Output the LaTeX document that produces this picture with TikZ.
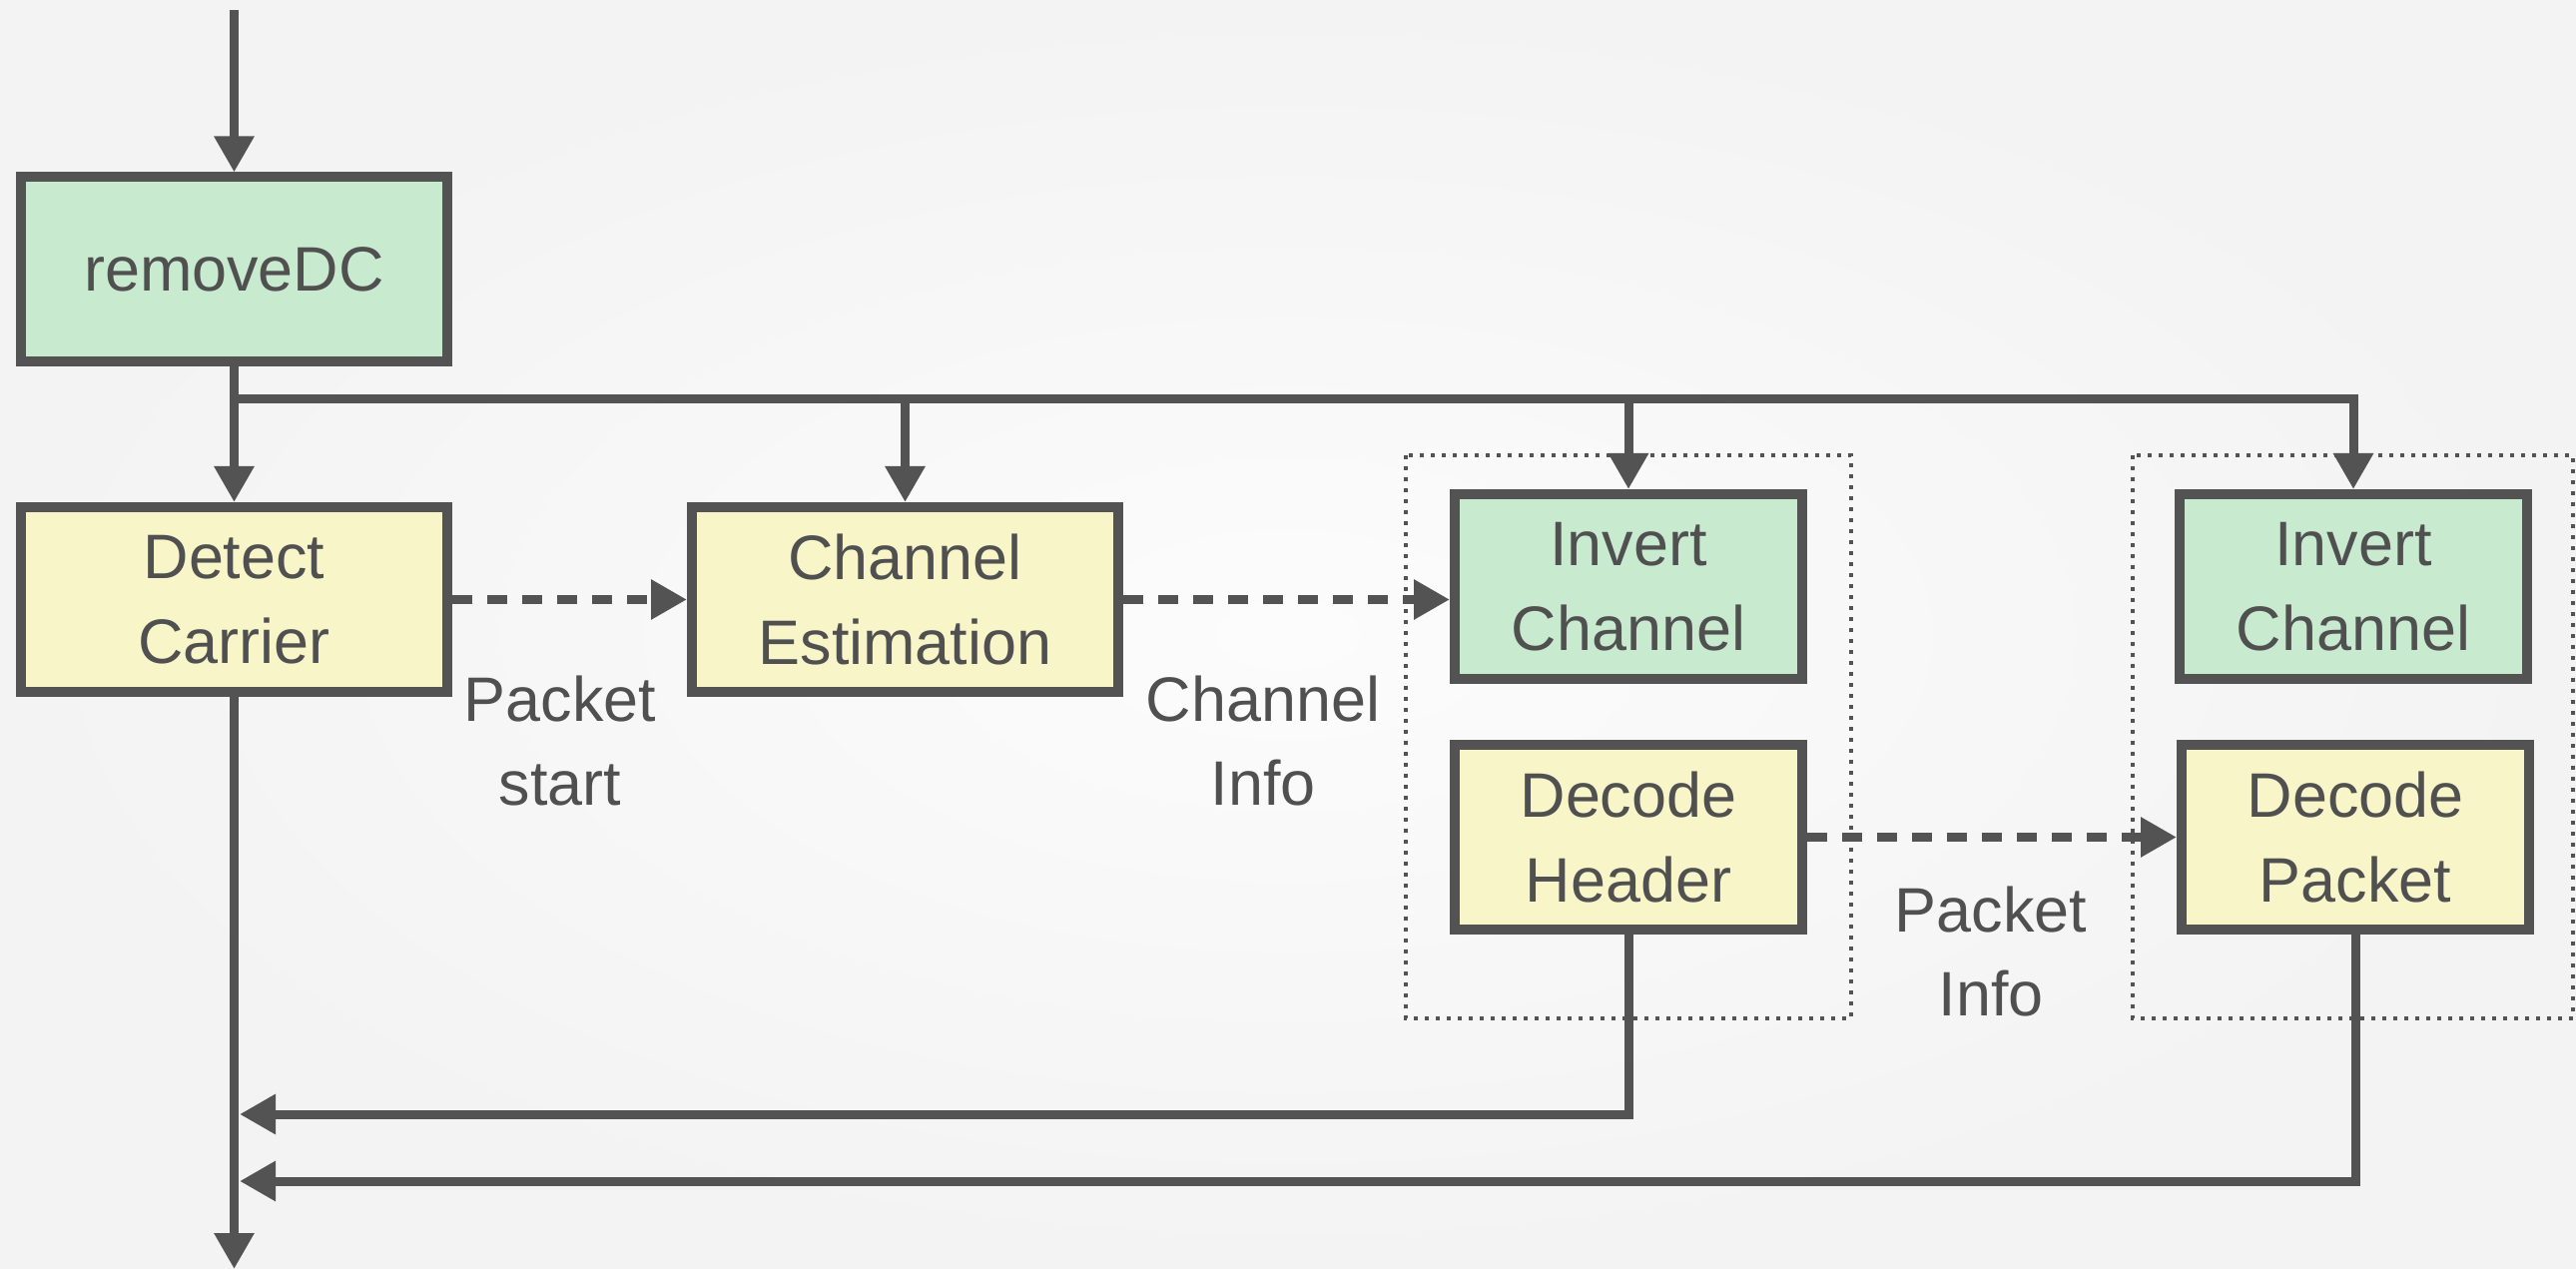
\documentclass[tikz,border=0pt]{standalone}
\usepackage{fontspec}
\setmainfont{Liberation Sans}
\usetikzlibrary{arrows.meta}
\definecolor{ink}{RGB}{83,83,83}
\definecolor{txt}{RGB}{80,80,80}
\definecolor{mint}{RGB}{200,235,208}
\definecolor{cream}{RGB}{248,245,200}
\definecolor{bgin}{RGB}{252,252,252}
\definecolor{bgout}{RGB}{243,243,243}
\begin{document}
\begin{tikzpicture}[
  blk/.style={draw=ink, line width=0.1cm, text=txt, align=center, inner sep=0pt,
    font=\fontsize{17.9}{24}\selectfont, minimum height=1.85cm},
  wide/.style={blk, minimum width=4.27cm},
  narrow/.style={blk, minimum width=3.48cm},
  link/.style={draw=ink, line width=0.09cm, -{Triangle[length=0.36cm,width=0.38cm]}},
  dlink/.style={link, dash pattern=on 0.2cm off 0.15cm},
  group/.style={draw=ink, line width=0.04cm, dash pattern=on 0.04cm off 0.07cm},
  lbl/.style={text=txt, align=center, font=\fontsize{17.9}{24}\selectfont}
]
\shade[inner color=bgin, outer color=bgout] (0,0) rectangle (25.8,-12.71);
\useasboundingbox (0,0) rectangle (25.8,-12.71);

% dotted groups
\draw[group] (14.08,-4.56) rectangle (18.54,-10.20);
\draw[group] (21.36,-4.56) rectangle (25.77,-10.20);

% blocks
\node[wide, fill=mint] (rdc) at (2.345,-2.70) {removeDC};
\node[wide, fill=cream] (det) at (2.345,-6.005) {Detect\\Carrier};
\node[wide, fill=cream] (chest) at (9.065,-6.005) {Channel\\Estimation};
\node[narrow, fill=mint] (inv1) at (16.31,-5.875) {Invert\\Channel};
\node[narrow, fill=cream] (dech) at (16.31,-8.385) {Decode\\Header};
\node[narrow, fill=mint] (inv2) at (23.57,-5.875) {Invert\\Channel};
\node[narrow, fill=cream] (decp) at (23.59,-8.385) {Decode\\Packet};

% labels
\node[lbl] (pstart) at (5.61,-7.42) {Packet\\start};
\node[lbl] (cinfo) at (12.65,-7.42) {Channel\\Info};
\node[lbl] (pinfo) at (19.94,-9.53) {Packet\\Info};

\coordinate (in) at (2.345,-0.10);
\coordinate (bus) at (2.345,-4.00);
\coordinate (out) at (2.345,-12.71);
\coordinate (fb1) at (2.40,-11.16);
\coordinate (fb2) at (2.40,-11.83);

% main path
\draw[link] (in) -- (rdc.north);
\draw[link] (rdc.south) -- (det.north);
\draw[link] (det.south) -- (out);
\draw[link] (bus) -| (inv2.north);
\draw[link] (bus -| chest.north) -- (chest.north);
\draw[link] (bus -| inv1.north) -- (inv1.north);

% side info
\draw[dlink] (det.east) -- (det.east -| chest.west);
\draw[dlink] (chest.east) -- (chest.east -| inv1.west);
\draw[dlink] (dech.east) -- (dech.east -| decp.west);

% feedback
\draw[link] (dech.south) |- (fb1);
\draw[link] (decp.south) |- (fb2);
\end{tikzpicture}
\end{document}
